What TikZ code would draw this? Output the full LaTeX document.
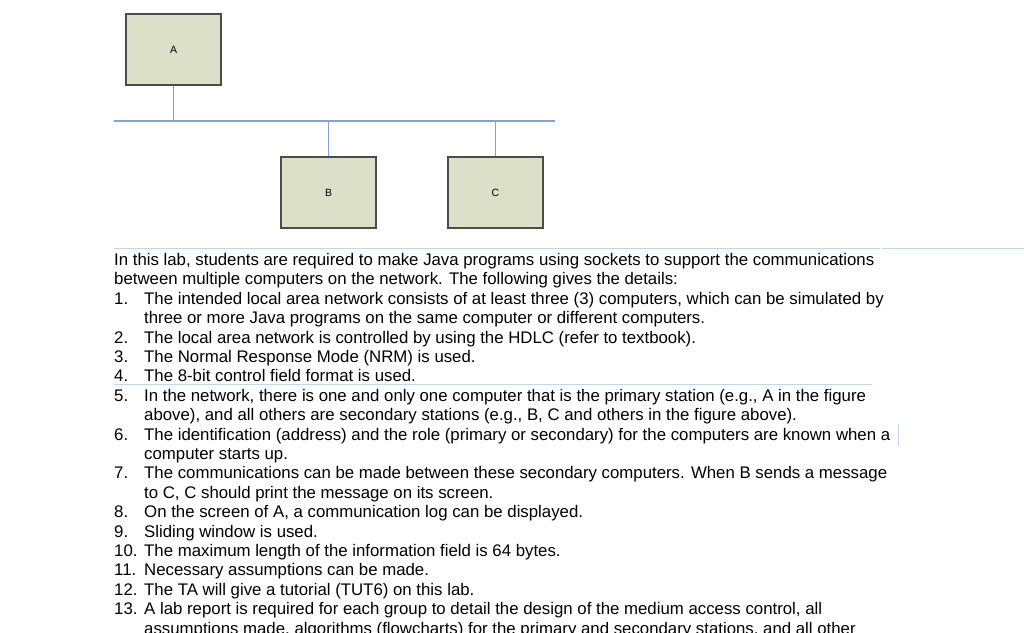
\documentclass[tikz,border=0pt]{standalone}
\usepackage{fontspec}
\setmainfont{Liberation Sans}
\begin{document}
\begin{tikzpicture}[x=1pt,y=-1pt,
  box/.style={draw=black!70,fill={rgb,255:red,221;green,224;blue,200},line width=1.2pt,minimum width=95pt,minimum height=71pt,font=\fontsize{10.5}{12}\selectfont},
  bus/.style={draw={rgb,255:red,130;green,160;blue,220},line width=1.1pt},
  rule/.style={draw={rgb,255:red,190;green,215;blue,240},line width=0.8pt},
  txt/.style={anchor=base west,inner sep=0pt,font=\fontsize{16.8}{18}\selectfont}]
\clip (0,0) rectangle (1024,632);
\useasboundingbox (0,0) rectangle (1024,632);
\node[box] (A) at (173.5,49.5) {A};
\node[box] (B) at (328.5,192.5) {B};
\node[box] (C) at (495.5,192.5) {C};
\coordinate (L) at (114,121);
\coordinate (R) at (555,121);
\draw[bus] (L) -- (R);
\draw[bus] (A.south) -- (A.south |- L);
\draw[bus] (B.north) -- (B.north |- L);
\draw[bus] (C.north) -- (C.north |- L);
\coordinate (r1a) at (114,248); \coordinate (r1b) at (880,248);
\coordinate (r1c) at (882,248); \coordinate (r1d) at (1024,248);
\draw[rule] (r1a) -- (r1b); \draw[rule] (r1c) -- (r1d);
\coordinate (r2a) at (114,384); \coordinate (r2b) at (872,384);
\draw[rule] (r2a) -- (r2b);
\coordinate (r3a) at (898,424); \coordinate (r3b) at (898,446);
\draw[rule] (r3a) -- (r3b);
\def\ly#1{265.5+#1*19.4}
\node[txt] (t0) at (114,{\ly0}) {In this lab, students are required to make Java programs using sockets to support the communications};
\node[txt] (t1) at (114,{\ly1}) {between multiple computers on the network. The following gives the details:};
\foreach \n/\i/\s in {
 1/2/{The intended local area network consists of at least three (3) computers, which can be simulated by},
 2/4/{The local area network is controlled by using the HDLC (refer to textbook).},
 3/5/{The Normal Response Mode (NRM) is used.},
 4/6/{The 8-bit control field format is used.},
 5/7/{In the network, there is one and only one computer that is the primary station (e.g., A in the figure},
 6/9/{The identification (address) and the role (primary or secondary) for the computers are known when a},
 7/11/{The communications can be made between these secondary computers. When B sends a message},
 8/13/{On the screen of A, a communication log can be displayed.},
 9/14/{Sliding window is used.},
 10/15/{The maximum length of the information field is 64 bytes.},
 11/16/{Necessary assumptions can be made.},
 12/17/{The TA will give a tutorial (TUT6) on this lab.},
 13/18/{A lab report is required for each group to detail the design of the medium access control, all}}
 {\node[txt] (n\n) at (114,{\ly\i}) {\n.}; \node[txt] (s\n) at (144,{\ly\i}) {\s};}
\foreach \i/\s in {
 3/{three or more Java programs on the same computer or different computers.},
 8/{above), and all others are secondary stations (e.g., B, C and others in the figure above).},
 10/{computer starts up.},
 12/{to C, C should print the message on its screen.},
 19/{assumptions made, algorithms (flowcharts) for the primary and secondary stations, and all other}}
 {\node[txt] (c\i) at (144,{\ly\i}) {\s};}
\end{tikzpicture}
\end{document}
